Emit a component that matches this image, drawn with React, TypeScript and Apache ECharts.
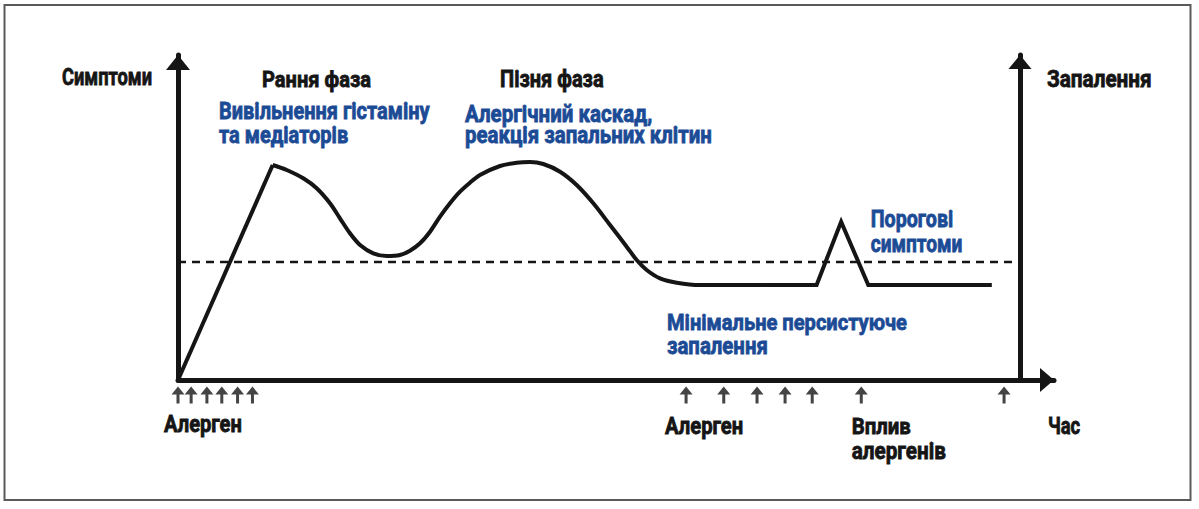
import React, { useEffect, useRef } from "react";
import * as echarts from "echarts";

// ---- data (time units 0..100, level units 0..100) ----
const risePhase: number[][] = [
  [0, 0],
  [10.81, 66.15],
];
const wavePhase: number[][] = [
  [10.81, 66.15],
  [12.41, 64.62],
  [14.3, 62.06],
  [15.83, 58.98],
  [17.35, 54.37],
  [18.49, 49.75],
  [19.63, 45.14],
  [20.78, 41.54],
  [22.29, 38.98],
  [23.82, 38.15],
  [25.34, 38.46],
  [26.48, 39.78],
  [27.63, 42.06],
  [28.77, 45.63],
  [29.91, 50.25],
  [31.05, 54.37],
  [32.19, 57.94],
  [33.33, 60.71],
  [34.47, 63.08],
  [36.76, 65.85],
  [38.66, 66.86],
  [40.18, 67.08],
  [41.7, 66.46],
  [43.61, 64.09],
  [45.51, 60.0],
  [47.41, 54.37],
  [49.32, 47.69],
  [51.22, 41.02],
  [52.36, 36.92],
  [53.5, 33.85],
  [55.02, 31.29],
  [56.93, 29.94],
  [59.59, 29.23],
  [66.44, 29.23],
];
const tailPhase: number[][] = [
  [66.44, 29.23],
  [72.9, 29.23],
  [75.7, 48.7],
  [78.8, 29.23],
  [92.9, 29.23],
];
const thresholdLevel = 36.3;
const thresholdRange = [0, 96];
const allergenEarly = [0, 1.5, 3.3, 5.0, 6.8, 8.5];
const allergenLate = [58.0, 62.3, 66.1, 69.3, 72.4, 78.0, 94.3];

const axisNames = { left: "Симптоми", right: "Запалення", bottom: "Час" };
const phaseTitles = ["Рання фаза", "Пізня фаза"];
const earlyNote = ["Вивільнення гістаміну", "та медіаторів"];
const lateNote = ["Алергічний каскад,", "реакція запальних клітин"];
const thresholdNote = ["Порогові", "симптоми"];
const minimalNote = ["Мінімальне персистуюче", "запалення"];
const allergenLabel = "Алерген";
const exposureNote = ["Вплив", "алергенів"];

const FONT_FAMILY = "Roboto, sans-serif";
const BLUE = "#1c4b96";
const BLACK = "#151515";
const FS = 23;
const FONT = `bold ${FS}px ${FONT_FAMILY}`;

let measureCtx: CanvasRenderingContext2D | null = null;
function measure(text: string): number {
  if (!measureCtx) {
    measureCtx = document.createElement("canvas").getContext("2d");
  }
  if (!measureCtx) return text.length * FS * 0.5;
  measureCtx.font = FONT;
  return measureCtx.measureText(text).width;
}

// text anchored at left/middle, horizontally squeezed to the width it has in the reference
function txt(text: string, x: number, y: number, w: number, color: string) {
  const m = measure(text);
  return {
    type: "text",
    x,
    y,
    scaleX: m > 0 ? (w - 0.8) / m : 1,
    style: {
      text,
      fill: color,
      stroke: color,
      lineWidth: 0.8,
      font: FONT,
      textAlign: "left",
      textVerticalAlign: "middle",
    },
  };
}

const ARROW =
  "path://M6.5,0 L13,8 L8,8 L8,17 L5,17 L5,8 L0,8 Z";

export default function App() {
  const ref = useRef<HTMLDivElement>(null);
  useEffect(() => {
    if (!ref.current) return;
    const chart = echarts.init(ref.current, null, { renderer: "svg" });
    const axisLineStyle = { color: BLACK, width: 5 };
    const option: any = {
      animation: false,
      backgroundColor: "#ffffff",
      grid: { left: 178, right: 145, top: 55, bottom: 129 },
      xAxis: {
        type: "value",
        min: 0,
        max: 100,
        axisLine: {
          show: true,
          lineStyle: axisLineStyle,
          symbol: ["none", "triangle"],
          symbolSize: [24, 14],
          symbolOffset: [0, -7],
        },
        axisTick: { show: false },
        axisLabel: { show: false },
        splitLine: { show: false },
      },
      yAxis: [
        {
          type: "value",
          min: 0,
          max: 100,
          position: "left",
          axisLine: {
            show: true,
            onZero: false,
            lineStyle: axisLineStyle,
            symbol: ["none", "triangle"],
            symbolSize: [24, 15],
            symbolOffset: [0, -7.5],
          },
          axisTick: { show: false },
          axisLabel: { show: false },
          splitLine: { show: false },
        },
        {
          type: "value",
          min: 0,
          max: 100,
          position: "right",
          offset: -34,
          axisLine: {
            show: true,
            onZero: false,
            lineStyle: axisLineStyle,
            symbol: ["none", "triangle"],
            symbolSize: [23, 14],
            symbolOffset: [0, -7],
          },
          axisTick: { show: false },
          axisLabel: { show: false },
          splitLine: { show: false },
        },
      ],
      series: [
        {
          type: "line",
          data: [
            [thresholdRange[0], thresholdLevel],
            [thresholdRange[1], thresholdLevel],
          ],
          showSymbol: false,
          lineStyle: { color: BLACK, width: 2.5, type: [8, 6] },
          z: 1,
        },
        {
          type: "line",
          data: risePhase,
          showSymbol: false,
          lineStyle: { color: BLACK, width: 4, join: "miter" },
          z: 3,
        },
        {
          type: "line",
          data: wavePhase,
          smooth: 0.3,
          showSymbol: false,
          lineStyle: { color: BLACK, width: 4 },
          z: 3,
        },
        {
          type: "line",
          data: tailPhase,
          showSymbol: false,
          lineStyle: { color: BLACK, width: 4, join: "miter" },
          z: 3,
        },
        {
          type: "scatter",
          data: allergenEarly.concat(allergenLate).map((t) => [t, 0]),
          symbol: ARROW,
          symbolSize: [13, 17],
          symbolOffset: [0, 15],
          clip: false,
          itemStyle: { color: BLACK },
          z: 4,
        },
      ],
      graphic: [
        {
          type: "rect",
          shape: { x: 4.5, y: 5, width: 1186, height: 495 },
          style: { fill: "none", stroke: "#5a5a5a", lineWidth: 2 },
          silent: true,
        },
        txt(axisNames.left, 62, 77, 91, BLACK),
        txt(axisNames.right, 1047, 78.7, 105.5, BLACK),
        txt(axisNames.bottom, 1048, 426, 33, BLACK),
        txt(phaseTitles[0], 262, 78.7, 110, BLACK),
        txt(phaseTitles[1], 500, 79.3, 104.5, BLACK),
        txt(earlyNote[0], 219, 111.3, 211.5, BLUE),
        txt(earlyNote[1], 219, 135.3, 130, BLUE),
        txt(lateNote[0], 465, 113.7, 188, BLUE),
        txt(lateNote[1], 465, 135.3, 247.5, BLUE),
        txt(thresholdNote[0], 870.7, 218.7, 83.3, BLUE),
        txt(thresholdNote[1], 870.7, 243.7, 92.6, BLUE),
        txt(minimalNote[0], 667, 322, 241, BLUE),
        txt(minimalNote[1], 667, 346, 101.7, BLUE),
        txt(allergenLabel, 164, 424, 78.7, BLACK),
        txt(allergenLabel, 665, 426, 79, BLACK),
        txt(exposureNote[0], 851.7, 426, 60, BLACK),
        txt(exposureNote[1], 851.7, 451, 95, BLACK),
      ],
    };
    chart.setOption(option);
    return () => chart.dispose();
  }, []);
  return (
    <div
      ref={ref}
      style={{
        position: "absolute",
        left: 0,
        top: 0,
        width: 1199,
        height: 509,
      }}
    />
  );
}
